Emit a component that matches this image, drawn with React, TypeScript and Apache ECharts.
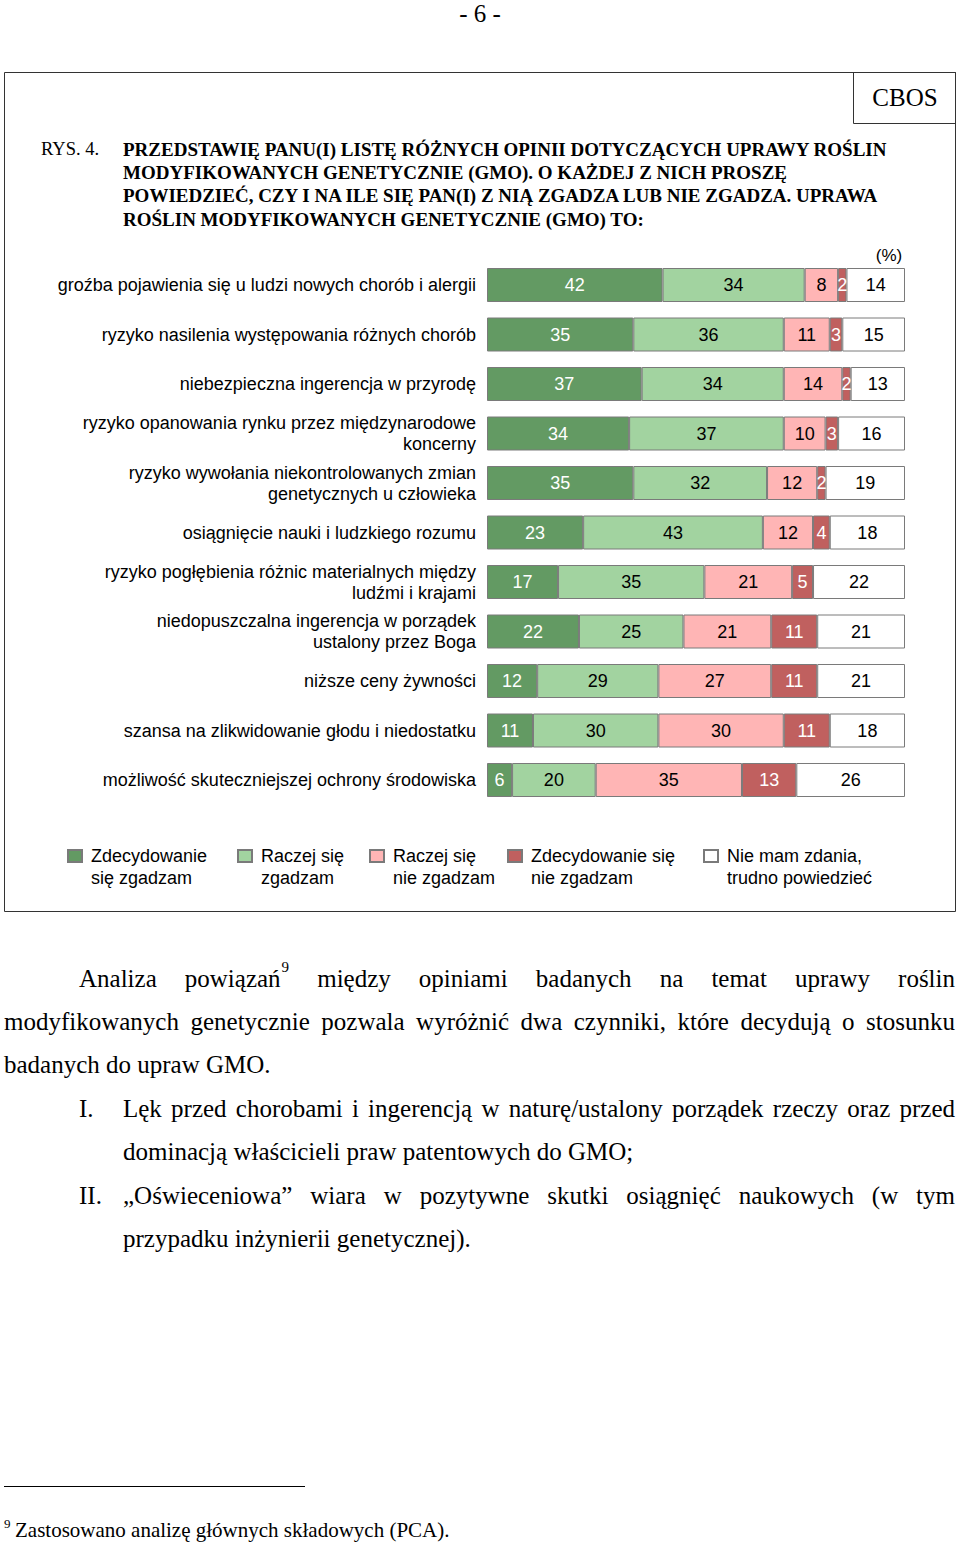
import React, { useEffect, useRef } from "react";
import * as echarts from "echarts";

const categories = [
  "groźba pojawienia się u ludzi nowych chorób i alergii",
  "ryzyko nasilenia występowania różnych chorób",
  "niebezpieczna ingerencja w przyrodę",
  "ryzyko opanowania rynku przez międzynarodowe\nkoncerny",
  "ryzyko wywołania niekontrolowanych zmian\ngenetycznych u człowieka",
  "osiągnięcie nauki i ludzkiego rozumu",
  "ryzyko pogłębienia różnic materialnych między\nludźmi i krajami",
  "niedopuszczalna ingerencja w porządek\nustalony przez Boga",
  "niższe ceny żywności",
  "szansa na zlikwidowanie głodu i niedostatku",
  "możliwość skuteczniejszej ochrony środowiska",
];
const seriesNames = [
  "Zdecydowanie\nsię zgadzam",
  "Raczej się\nzgadzam",
  "Raczej się\nnie zgadzam",
  "Zdecydowanie się\nnie zgadzam",
  "Nie mam zdania,\ntrudno powiedzieć",
];
const strongAgree = [42, 35, 37, 34, 35, 23, 17, 22, 12, 11, 6];
const ratherAgree = [34, 36, 34, 37, 32, 43, 35, 25, 29, 30, 20];
const ratherDisagree = [8, 11, 14, 10, 12, 12, 21, 21, 27, 30, 35];
const strongDisagree = [2, 3, 2, 3, 2, 4, 5, 11, 11, 11, 13];
const noOpinion = [14, 15, 13, 16, 19, 18, 22, 21, 21, 18, 26];

const titleLines = [
  "PRZEDSTAWIĘ PANU(I) LISTĘ RÓŻNYCH OPINII DOTYCZĄCYCH UPRAWY ROŚLIN",
  "MODYFIKOWANYCH GENETYCZNIE (GMO). O KAŻDEJ Z NICH PROSZĘ",
  "POWIEDZIEĆ, CZY I NA ILE SIĘ PAN(I) Z NIĄ ZGADZA LUB NIE ZGADZA. UPRAWA",
  "ROŚLIN MODYFIKOWANYCH GENETYCZNIE (GMO) TO:",
];

const paraLines = [
  { text: "Analiza powiązań^9 między opiniami badanych na temat uprawy roślin", justify: true, x0: 79 },
  { text: "modyfikowanych genetycznie pozwala wyróżnić dwa czynniki, które decydują o stosunku", justify: true, x0: 4 },
  { text: "badanych do upraw GMO.", justify: false, x0: 4 },
  { text: "Lęk przed chorobami i ingerencją w naturę/ustalony porządek rzeczy oraz przed", justify: true, x0: 123, marker: "I." },
  { text: "dominacją właścicieli praw patentowych do GMO;", justify: false, x0: 123 },
  { text: "„Oświeceniowa” wiara w pozytywne skutki osiągnięć naukowych (w tym", justify: true, x0: 123, marker: "II." },
  { text: "przypadku inżynierii genetycznej).", justify: false, x0: 123 },
];
const footnoteText = "Zastosowano analizę głównych składowych (PCA).";

const colors = ["#639a63", "#a2d3a0", "#ffb5b5", "#c0605f", "#ffffff"];
const labelColors = ["#ffffff", "#000000", "#000000", "#ffffff", "#000000"];

const SERIF = '"Liberation Serif", "Times New Roman", serif';
const SANS = '"Liberation Sans", Arial, sans-serif';

export default function App() {
  const ref = useRef<HTMLDivElement>(null);
  useEffect(() => {
    if (!ref.current) return;
    const chart = echarts.init(ref.current, undefined, { renderer: "svg" });
    const ctx = document.createElement("canvas").getContext("2d")!;
    const measure = (t: string, size: number) => {
      ctx.font = `${size}px ${SERIF}`;
      return ctx.measureText(t).width;
    };

    const graphics: any[] = [];
    const txt = (x: number, y: number, text: string, size: number, opts: any = {}) => ({
      type: "text",
      x,
      y,
      silent: true,
      style: {
        text,
        fontSize: size,
        fontFamily: opts.family || SERIF,
        fontWeight: opts.weight || "normal",
        fill: "#000",
        align: opts.align || "left",
        verticalAlign: "middle",
      },
    });

    // page number
    graphics.push(txt(480, 13, "- 6 -", 25, { align: "center" }));
    // outer frame
    graphics.push({
      type: "rect",
      shape: { x: 4.5, y: 72.5, width: 951, height: 839 },
      style: { fill: "none", stroke: "#333", lineWidth: 1 },
      silent: true,
    });
    graphics.push({
      type: "rect",
      shape: { x: 853.5, y: 72.5, width: 102, height: 51 },
      style: { fill: "none", stroke: "#333", lineWidth: 1 },
      silent: true,
    });
    graphics.push(txt(905, 97, "CBOS", 25, { align: "center" }));
    graphics.push(txt(41, 149, "RYS. 4.", 18.5));
    titleLines.forEach((l, i) => {
      graphics.push(txt(123, 149 + i * 23.4, l, 19, { weight: "bold" }));
    });
    graphics.push(txt(889, 255, "(%)", 17, { family: SANS, align: "center" }));

    // paragraph
    const PS = 25;
    const paraY = [978, 1021, 1064, 1108, 1151, 1195, 1238];
    const X1 = 955;
    paraLines.forEach((line, i) => {
      const y = paraY[i];
      if (line.marker) graphics.push(txt(79, y, line.marker, PS));
      const words = line.text.split(" ").map((w) => {
        const [t, sup] = w.split("^");
        const wt = measure(t, PS);
        const ws = sup ? measure(sup, 15) + 1 : 0;
        return { t, sup, wt, w: wt + ws };
      });
      let gap = measure(" ", PS);
      if (line.justify && words.length > 1) {
        const total = words.reduce((s, w) => s + w.w, 0);
        gap = (X1 - line.x0 - total) / (words.length - 1);
      }
      let x = line.x0;
      words.forEach((w) => {
        graphics.push(txt(x, y, w.t, PS));
        if (w.sup) graphics.push(txt(x + w.wt + 1, y - 11, w.sup, 15));
        x += w.w + gap;
      });
    });

    // footnote
    graphics.push({
      type: "line",
      shape: { x1: 4, y1: 1486.5, x2: 305, y2: 1486.5 },
      style: { stroke: "#000", lineWidth: 1.2 },
      silent: true,
    });
    graphics.push(txt(4, 1523, "9", 13));
    graphics.push(txt(15, 1530, footnoteText, 21));

    const dataSets = [strongAgree, ratherAgree, ratherDisagree, strongDisagree, noOpinion];
    const legendLefts = [67, 237, 369, 507, 703];

    const option: any = {
      animation: false,
      backgroundColor: "#ffffff",
      textStyle: { fontFamily: SANS },
      grid: { left: 487, width: 418, top: 260.25, height: 544.5, containLabel: false },
      xAxis: { type: "value", min: 0, max: 100, show: false },
      yAxis: {
        type: "category",
        data: categories,
        inverse: true,
        axisLine: { show: false },
        axisTick: { show: false },
        splitLine: { show: false },
        axisLabel: {
          margin: 11,
          fontSize: 18,
          lineHeight: 21,
          color: "#000",
          fontFamily: SANS,
          align: "right",
        },
      },
      legend: seriesNames.map((n, i) => ({
        data: [n],
        left: legendLefts[i],
        top: 823,
        padding: 0,
        itemWidth: 14,
        itemHeight: 12,
        icon: "rect",
        selectedMode: false,
        formatter: (name: string) => "\n" + name,
        textStyle: {
          fontSize: 18,
          lineHeight: 22,
          color: "#000",
          fontFamily: SANS,
          padding: [0, 0, 0, 4],
        },
      })),
      series: seriesNames.map((n, i) => ({
        name: n,
        type: "bar",
        stack: "total",
        barWidth: 34,
        data: dataSets[i],
        itemStyle: { color: colors[i], borderColor: "#7a7a7a", borderWidth: 1 },
        label: {
          show: true,
          position: "inside",
          fontSize: 18,
          fontFamily: SANS,
          color: labelColors[i],
        },
      })),
      graphic: graphics,
    };
    chart.setOption(option);
    return () => chart.dispose();
  }, []);
  return (
    <div
      ref={ref}
      style={{ position: "absolute", left: 0, top: 0, width: 960, height: 1545, background: "#fff" }}
    />
  );
}
